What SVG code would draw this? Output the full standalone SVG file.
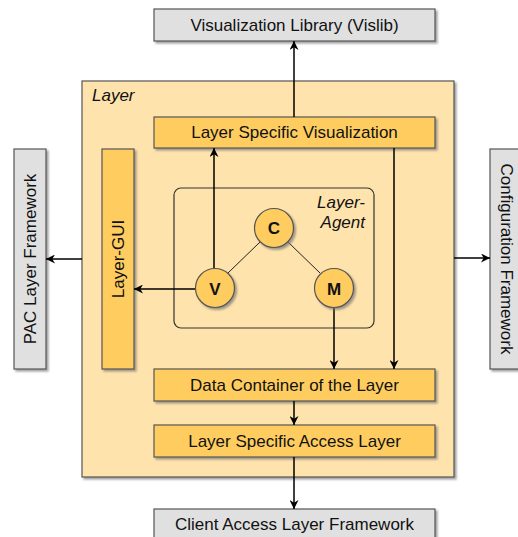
<svg xmlns="http://www.w3.org/2000/svg" width="518" height="537" viewBox="0 0 518 537">
<defs>
<filter id="sh" x="-20%" y="-20%" width="140%" height="140%"><feDropShadow dx="2" dy="2" stdDeviation="0.8" flood-color="#777" flood-opacity="0.7"/></filter>
<marker id="ah" viewBox="0 0 10 10" refX="10" refY="5" markerWidth="9" markerHeight="9" markerUnits="userSpaceOnUse" orient="auto"><path d="M0,0 L10,5 L0,10 L3,5 Z" fill="#000"/></marker>
<style>
.gray{fill:#e0e0e0;stroke:#555;stroke-width:1.2;filter:url(#sh)}
.org{fill:#ffcd5e;stroke:#555;stroke-width:1.2;filter:url(#sh)}
.t{font-family:"Liberation Sans",Arial,sans-serif;font-size:17px;fill:#111;text-anchor:middle;dominant-baseline:central}
.b{font-weight:bold}
.it{font-family:"Liberation Sans",Arial,sans-serif;font-size:17px;font-style:italic;fill:#111}
.ca{stroke:#000;stroke-width:1.5;fill:none;marker-end:url(#ah)}
</style>
</defs>
<rect width="518" height="537" fill="#fff"/>
<g id="layer">
<rect x="82" y="81" width="372" height="396" fill="#ffe3ac" stroke="#555" stroke-width="1.2" filter="url(#sh)"/>
<text class="it" x="92" y="101">Layer</text>
</g>
<g id="vislib"><rect class="gray" x="154" y="9" width="281" height="32"/><text class="t" x="294.5" y="25">Visualization Library (Vislib)</text></g>
<g id="pac"><rect class="gray" x="14" y="149" width="32" height="220"/><text class="t" transform="translate(30,259) rotate(-90)">PAC Layer Framework</text></g>
<g id="config"><rect class="gray" x="490" y="149" width="32" height="220"/><text class="t" transform="translate(506,259) rotate(90)">Configuration Framework</text></g>
<g id="client"><rect class="gray" x="154" y="509" width="281" height="32"/><text class="t" x="294.5" y="524">Client Access Layer Framework</text></g>
<g id="lsv"><rect class="org" x="154" y="117" width="281" height="31"/><text class="t" x="294.5" y="132.5">Layer Specific Visualization</text></g>
<g id="gui"><rect class="org" x="102" y="149" width="32" height="220"/><text class="t" transform="translate(118,259) rotate(-90)">Layer-GUI</text></g>
<g id="agent">
<rect x="174" y="188" width="200" height="140" rx="7" fill="none" stroke="#333" stroke-width="1.2"/>
<text class="it" x="365" y="208" text-anchor="end">Layer-</text>
<text class="it" x="365" y="228" text-anchor="end">Agent</text>
</g>
<g id="dc"><rect class="org" x="154" y="369" width="281" height="32"/><text class="t" x="294.5" y="385">Data Container of the Layer</text></g>
<g id="lsal"><rect class="org" x="154" y="425" width="281" height="32"/><text class="t" x="294.5" y="441">Layer Specific Access Layer</text></g>
<g id="connectors">
<line class="ca" x1="294" y1="117" x2="294" y2="41"/>
<line class="ca" x1="82" y1="259" x2="46" y2="259"/>
<line class="ca" x1="454" y1="258" x2="490" y2="258"/>
<line class="ca" x1="195" y1="289" x2="134" y2="289"/>
<line class="ca" x1="214" y1="268" x2="214" y2="148"/>
<line class="ca" x1="394" y1="148" x2="394" y2="369"/>
<line class="ca" x1="334" y1="308" x2="334" y2="369"/>
<line class="ca" x1="294" y1="401" x2="294" y2="425"/>
<line class="ca" x1="294" y1="457" x2="294" y2="509"/>
<line stroke="#222" stroke-width="1" x1="260" y1="242" x2="228" y2="273"/>
<line stroke="#222" stroke-width="1" x1="288" y1="242" x2="320" y2="273"/>
</g>
<g id="C"><circle class="org" cx="274" cy="228" r="19.5"/><text class="t b" x="274" y="228">C</text></g>
<g id="V"><circle class="org" cx="215" cy="288" r="19.5"/><text class="t b" x="215" y="289">V</text></g>
<g id="M"><circle class="org" cx="334" cy="288" r="19.5"/><text class="t b" x="334" y="289">M</text></g>
</svg>
